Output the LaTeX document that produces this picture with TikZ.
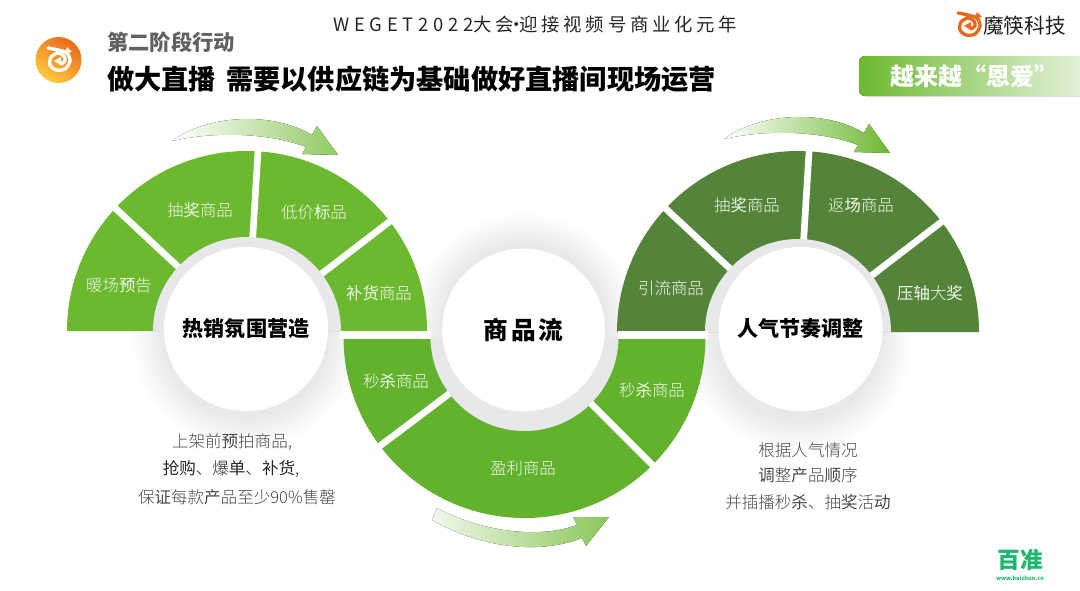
\documentclass[tikz,border=0pt]{standalone}
\usepackage{fontspec}
\setmainfont{Noto Sans CJK SC}
\newfontfamily\trackfont[LetterSpace=20]{Noto Sans CJK SC}
\newfontfamily\latinfont[LetterSpace=26]{Noto Sans CJK SC}
\newfontfamily\wordfont[LetterSpace=12]{Noto Sans CJK SC}
\newfontfamily\thinfont{Noto Sans CJK SC Light}
\definecolor{leafgreen}{HTML}{6CB92F}
\definecolor{midgreen}{HTML}{63B22D}
\definecolor{darkleaf}{HTML}{54843A}
\definecolor{ringgray}{HTML}{E8E8EB}
\definecolor{logoorange}{HTML}{E8681C}
\definecolor{zhungreen}{HTML}{1DB86E}
\newcommand{\hv}[1]{{\normalfont #1}}
\tikzstyle{gapline}=[draw=white, line width=5pt]
\tikzstyle{disc}=[circle, fill=white, minimum size=123pt, inner sep=0pt, font=\bfseries\fontsize{15.8}{18}\selectfont, text=black]
\tikzstyle{seglabel}=[text=white!92!leafgreen, inner sep=0pt, font=\thinfont\fontsize{12.3}{14}\selectfont]
\tikzstyle{caption}=[text=black!72, inner sep=0pt, font=\thinfont\fontsize{12.4}{14}\selectfont]
\newcommand{\softshadow}[2]{
  \foreach \r in {84,87,...,114} {
    \fill[black, opacity=.006] (#1,#2) circle (\r);
  }
}
\newcommand{\spiralmark}[3]{
  \begin{scope}[shift={(#1,#2)}]
    \draw[#3, line width=2.5pt, line cap=round] plot[smooth] coordinates {(-11,-12) (-1,-10) (8,-7) (11,1) (6,9) (-3,10) (-9,5) (-8,-3) (-1,-7) (5,-4) (6,1) (2,4)};
    \fill[#3] (-5,1) -- (2,-3) -- (2,5) -- cycle;
    \fill[#3] (8,-13) -- (13,-8) -- (6,-7) -- cycle;
  \end{scope}
}
\begin{document}
\begin{tikzpicture}[x=.75pt, y=.75pt, yscale=-1]
  \useasboundingbox (0,0) rectangle (1080,590);
  \coordinate (hotc) at (247,331);
  \coordinate (flowc) at (524.5,337);
  \coordinate (popc) at (798,332);

  % shadows under the three discs
  \softshadow{246}{335}
  \softshadow{524}{327}
  \softshadow{798.5}{338}

  % sectors
  \fill[leafgreen] (hotc) ++(-180,0) arc[start angle=180, end angle=360, radius=180] -- cycle;
  \fill[midgreen] (flowc) ++(181,0) arc[start angle=0, end angle=180, radius=181] -- cycle;
  \fill[darkleaf] (popc) ++(-181,0) arc[start angle=180, end angle=360, radius=181] -- cycle;

  % gaps between the sectors
  \foreach \a in {-137,-86.5,-37.5} {
    \draw[gapline] (hotc) -- +(\a:186);
    \draw[gapline] (popc) -- +(\a:186);
  }
  \foreach \a in {143,45} {
    \draw[gapline] (flowc) -- +(\a:186);
  }

  % rings
  \fill[ringgray] (hotc) ++(-94,0) arc[start angle=180, end angle=360, radius=94] -- cycle;
  \fill[ringgray] (flowc) ++(94,0) arc[start angle=0, end angle=180, radius=94] -- cycle;
  \fill[ringgray] (popc) ++(-93,0) arc[start angle=180, end angle=360, radius=93] -- cycle;
  \draw[draw=white, line width=6pt] (340,335) -- (431,335);
  \draw[draw=white, line width=6pt] (618,335) -- (708,335);

  \node[disc] (hot) at (246,329) {热销氛围营造};
  \node[disc, minimum size=122pt, font=\bfseries\wordfont\fontsize{18.5}{20}\selectfont] (flow) at (523.5,330) {商品流};
  \node[disc] (pop) at (800.5,329) {人气节奏调整};

  \node[seglabel] (hot1) at (119,285) {暖场\hv{预}告};
  \node[seglabel] (hot2) at (200,210) {抽\hv{奖}商品};
  \node[seglabel] (hot3) at (314,212) {低价\hv{标}品};
  \node[seglabel] (hot4) at (379,293) {\hv{补货}商品};
  \node[seglabel] (flow1) at (396,381) {秒\hv{杀}商品};
  \node[seglabel] (flow2) at (523,468) {盈利商品};
  \node[seglabel] (flow3) at (652,390) {秒\hv{杀}商品};
  \node[seglabel] (pop1) at (671,288) {引流商品};
  \node[seglabel] (pop2) at (747,205) {抽\hv{奖}商品};
  \node[seglabel] (pop3) at (861,205) {返\hv{场}商品};
  \node[seglabel] (pop4) at (930,293) {\hv{压轴}大\hv{奖}};

  % arrows
  \fill[left color=white, middle color=leafgreen!22, right color=leafgreen!75] (172,141) .. controls (205,116) and (270,110) .. (312,135) -- (317,126) -- (338,155) -- (302,154) -- (306,147) .. controls (270,133) and (215,131) .. cycle;
  \fill[left color=white, middle color=leafgreen!22, right color=leafgreen] (724,139) .. controls (757,114) and (822,108) .. (864,133) -- (869,124) -- (890,153) -- (854,152) -- (858,145) .. controls (822,131) and (767,129) .. cycle;
  \fill[left color=leafgreen!10, middle color=leafgreen!32, right color=leafgreen!80] (437,508) .. controls (470,526) and (530,542) .. (577,525) -- (573,517) -- (609,517) -- (586,546) -- (582,538) .. controls (530,558) and (470,542) .. (432,520) -- cycle;

  % captions
  \node[caption] (hotline1) at (232,442) {上架前\hv{预}拍商品,};
  \node[caption, text=black!85] (hotline2) at (231,469) {\hv{抢购}、爆\hv{单}、\hv{补货},};
  \node[caption] (hotline3) at (237,497) {保\hv{证}每款\hv{产}品至少90\%售罄};
  \node[caption] (popline1) at (808,450) {根据人气情况};
  \node[caption] (popline2) at (808,475) {\hv{调}整\hv{产}品\hv{顺}序};
  \node[caption] (popline3) at (808,502) {并插播秒\hv{杀}、抽\hv{奖}活\hv{动}};

  % header
  \node[inner sep=0pt, text=black!85, font=\trackfont\fontsize{13.8}{15}\selectfont] (event) at (535,24) {{\latinfont WEGET2022}大会\kern-.35em·\kern-.35em 迎接视频号商业化元年};
  \shade[top color=logoorange!92!orange, bottom color=orange!55!yellow!75!white, shading angle=-35] (58.5,60) circle (23);
  \spiralmark{59}{60}{white}
  \node[anchor=west, inner sep=0pt, text=black!62, font=\bfseries\fontsize{16}{18}\selectfont] (stage) at (107,42) {第二阶段行动};
  \node[anchor=west, inner sep=0pt, text=black, font=\bfseries\fontsize{20.4}{24}\selectfont] (title) at (107,79) {做大直播 \kern 3pt 需要以供应链为基础做好直播间现场运营};
  \spiralmark{969}{25}{logoorange}
  \node[anchor=west, inner sep=0pt, text=black!88, font=\fontsize{15.5}{18}\selectfont] (brand) at (983,26) {魔筷科技};

  % banner
  \fill[left color=leafgreen, right color=leafgreen!12, rounded corners=4.5pt] (859,56) rectangle (1100,96);
  \node[inner sep=0pt, text=white, font=\bfseries\fontsize{18}{20}\selectfont] (trend) at (974,76) {越来越“恩爱”};

  % watermark
  \node[inner sep=0pt, text=zhungreen, font=\bfseries\fontsize{17}{19}\selectfont] (zhun) at (1020,560) {百准};
  \node[inner sep=0pt, text=zhungreen, font=\bfseries\fontsize{4.2}{5}\selectfont] (site) at (1020,578) {www.baizhun.cn};
\end{tikzpicture}
\end{document}
